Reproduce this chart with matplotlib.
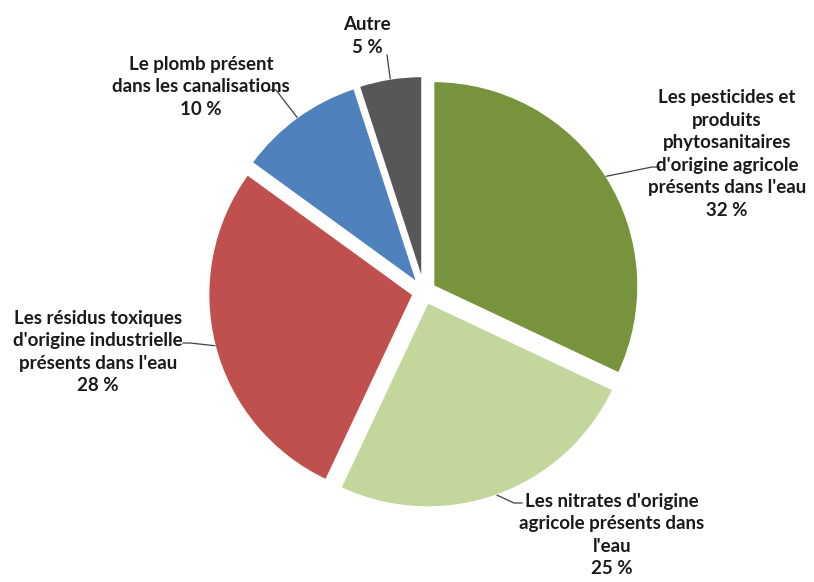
import numpy as np
import matplotlib
matplotlib.use('Agg')
import matplotlib.pyplot as plt


labels = ["Les pesticides et\nproduits\nphytosanitaires\nd'origine agricole\nprésents dans l'eau",
          "Les nitrates d'origine\nagricole présents dans\nl'eau",
          "Les résidus toxiques\nd'origine industrielle\nprésents dans l'eau",
          "Le plomb présent\ndans les canalisations",
          "Autre"]
values = [32, 25, 28, 10, 5]
colors = ['#77933C', '#C3D69B', '#C0504D', '#4F81BD', '#575757']

W, H = 814, 582
cx, cy, R = 424, H - 292, 205
gap = 11

# label block centres and leader elbows, in pixels from the top-left
label_pos = [(727, 154), (612, 535), (98, 352), (201, 87), (367, 36)]
elbows = [((652, 167), 8), ((514, 503), 8), ((190, 343), -7), ((276, 90), -8), ((387, 55), 0)]

fig = plt.figure(figsize=(W / 100, H / 100), dpi=100)
ax = fig.add_axes([0, 0, 1, 1])
# explode is in data units here, so the gap is given in pixels directly
wedges, _ = ax.pie(values, colors=colors, startangle=90, counterclock=False,
                   center=(cx, cy), radius=R, explode=[gap] * len(values),
                   wedgeprops=dict(edgecolor='white', linewidth=1.5))
ax.set_xlim(0, W)
ax.set_ylim(0, H)
ax.set_aspect('equal')
ax.axis('off')

for w, lab, v, (tx, ty), ((ex, ey), dx) in zip(wedges, labels, values, label_pos, elbows):
    mid = np.deg2rad((w.theta1 + w.theta2) / 2)
    wx, wy = w.center
    px_, py_ = wx + R * np.cos(mid), wy + R * np.sin(mid)
    ax.plot([px_, ex, ex + dx], [py_, H - ey, H - ey], color='#404040', lw=0.9)
    ax.text(tx, H - ty, f"{lab}\n{v} %", ha='center', va='center', multialignment='center',
            family='Lato', weight='bold', fontsize=13.5, color='#1a1a1a', linespacing=1.4)

fig.savefig('out.png', dpi=100)
